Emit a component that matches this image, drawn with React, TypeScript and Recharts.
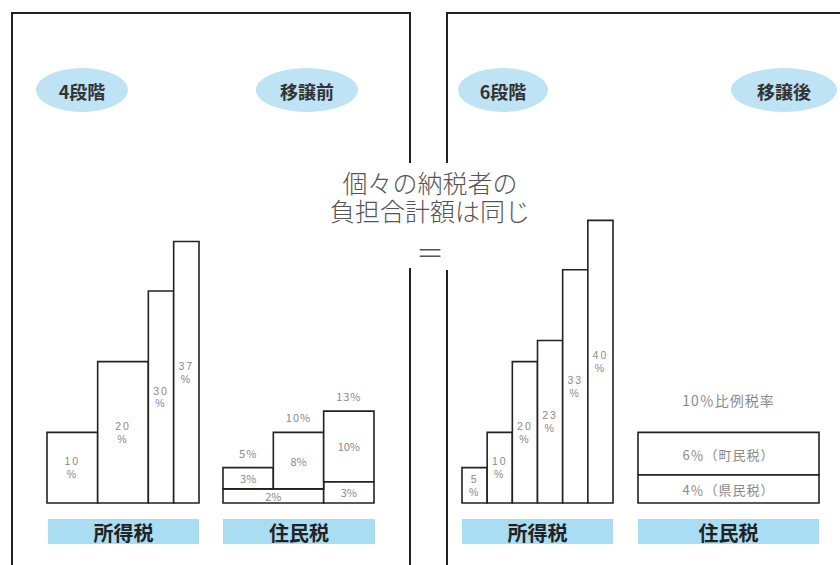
import React from 'react';
import { ComposedChart, XAxis, YAxis, ReferenceArea } from 'recharts';

// 移譲前：所得税 4段階
const incomeBeforeRates = [10, 20, 30, 37];
const incomeBeforeBrackets = [2, 2, 1, 1]; // relative width of each income bracket
// 移譲前：住民税（下＝県民税、上＝市町村民税）
const residentBeforePref = [2, 2, 3];
const residentBeforeCity = [3, 8, 10];
// 移譲後：所得税 6段階
const incomeAfterRates = [5, 10, 20, 23, 33, 40];
// 移譲後：住民税 10%比例税率
const residentAfterPref = [4];
const residentAfterCity = [6];
const residentAfterNames = ['町民税', '県民税'];

const FONT = '"Noto Sans CJK JP", "Noto Sans", sans-serif';
const NUM_FONT = '"Liberation Sans", Arial, sans-serif';
const SERIF = '"Liberation Serif", "Noto Sans CJK JP", serif';
const TOP = 185;
const BASE = 503;
const Y_MAX = 45;
const PAD = 3;
const LINE = '#222';
const BLUE = '#a9ddf4';
const ELLIPSE = '#bde3f5';
const LABEL_GREY = '#8a8a8a';

type Cell = {
  x0: number;
  x1: number;
  y0: number;
  y1: number;
  lines: string[];
  above?: string;
  aboveGap?: number;
  size?: number;
  spacing?: number;
};

// multi-line text as one <text> with tspans
const MultiText = ({ x, y, lines, lh, ...rest }: any) => {
  const start = y - ((lines.length - 1) * lh) / 2;
  return (
    <text x={x} y={start} textAnchor="middle" dominantBaseline="central" {...rest}>
      {lines.map((t: string, i: number) => (
        <tspan key={i} x={x} dy={i === 0 ? 0 : lh}>{t}</tspan>
      ))}
    </text>
  );
};

const cellLabel = (c: Cell) => (p: any) => {
  const vb = p.viewBox ?? { x: p.x, y: p.y, width: p.width, height: p.height };
  const cx = vb.x + vb.width / 2;
  const cy = vb.y + vb.height / 2;
  const multi = c.lines.length > 1;
  return (
    <g>
      <MultiText x={cx} y={cy} lines={c.lines} lh={12.5} fontFamily={multi ? NUM_FONT : FONT}
        fontSize={c.size ?? (multi ? 10.5 : 11)} fill={LABEL_GREY} letterSpacing={c.spacing ?? 0} />
      {c.above && (
        <text x={cx} y={vb.y - (c.aboveGap ?? 15)} textAnchor="middle" dominantBaseline="central"
          fontFamily={FONT} fontSize={c.aboveGap ? 14 : 11} fill={LABEL_GREY} letterSpacing={1}>{c.above}</text>
      )}
    </g>
  );
};

function StepChart({ left, width, units, cells }: { left: number; width: number; units: number; cells: Cell[] }) {
  const h = BASE - TOP;
  return (
    <div style={{ position: 'absolute', left: left - PAD, top: TOP - PAD }}>
      <ComposedChart width={width + PAD * 2} height={h + PAD * 2} data={cells}
        margin={{ top: PAD, right: PAD, bottom: PAD, left: PAD }}>
        <XAxis type="number" dataKey="x0" domain={[0, units]} hide allowDataOverflow />
        <YAxis type="number" domain={[0, Y_MAX]} hide allowDataOverflow />
        {cells.map((c, i) => (
          <ReferenceArea key={i} x1={c.x0} x2={c.x1} y1={c.y0} y2={c.y1}
            fill="#fff" fillOpacity={1} stroke={LINE} strokeWidth={1.6}
            ifOverflow="visible" label={cellLabel(c)} />
        ))}
      </ComposedChart>
    </div>
  );
}

// build cells from the data arrays
const incomeCells = (rates: number[], widths: number[]): Cell[] => {
  let x = 0;
  return rates.map((r, i) => {
    const c: Cell = { x0: x, x1: x + widths[i], y0: 0, y1: r, lines: [`${r}`, '%'], spacing: 2 };
    x += widths[i];
    return c;
  });
};

const residentBeforeCells = (): Cell[] => {
  const out: Cell[] = [];
  // lower part: merge neighbouring bars with the same rate
  let i = 0;
  while (i < residentBeforePref.length) {
    let j = i;
    while (j + 1 < residentBeforePref.length && residentBeforePref[j + 1] === residentBeforePref[i]) j++;
    out.push({ x0: i * 2, x1: (j + 1) * 2, y0: 0, y1: residentBeforePref[i], lines: [`${residentBeforePref[i]}%`] });
    i = j + 1;
  }
  residentBeforeCity.forEach((v, k) => {
    const base = residentBeforePref[k];
    out.push({ x0: k * 2, x1: k * 2 + 2, y0: base, y1: base + v, lines: [`${v}%`], above: `${base + v}%` });
  });
  return out;
};

const residentAfterCells = (): Cell[] => [
  { x0: 0, x1: 1, y0: 0, y1: residentAfterPref[0], lines: [`${residentAfterPref[0]}％（${residentAfterNames[1]}）`], size: 13, spacing: 1 },
  {
    x0: 0, x1: 1, y0: residentAfterPref[0], y1: residentAfterPref[0] + residentAfterCity[0],
    lines: [`${residentAfterCity[0]}％（${residentAfterNames[0]}）`], size: 13, spacing: 1,
    above: `${residentAfterPref[0] + residentAfterCity[0]}％比例税率`, aboveGap: 32,
  },
];

const Ellipse = ({ cx, rx, text }: { cx: number; rx: number; text: string }) => (
  <g>
    <ellipse cx={cx} cy={90} rx={rx} ry={22} fill={ELLIPSE} />
    <text x={cx} y={91} textAnchor="middle" dominantBaseline="central" fontFamily={FONT}
      fontSize={18} fontWeight={700} fill="#333">{text}</text>
  </g>
);

const Tag = ({ x0, x1, text }: { x0: number; x1: number; text: string }) => (
  <g>
    <rect x={x0} y={519} width={x1 - x0} height={25} fill={BLUE} />
    <text x={(x0 + x1) / 2} y={532} textAnchor="middle" dominantBaseline="central" fontFamily={FONT}
      fontSize={20} fontWeight={700} fill="#222">{text}</text>
  </g>
);

export default function App() {
  return (
    <div style={{ position: 'absolute', left: 0, top: 0, width: 840, height: 565, background: '#fff', overflow: 'hidden' }}>
      <svg width={840} height={565} style={{ position: 'absolute', left: 0, top: 0 }}>
        {/* panel frames, broken where the centre text sits */}
        <path d="M12 565 V13 H410 V163 M410 268 V565" fill="none" stroke={LINE} strokeWidth={2} />
        <path d="M447 565 V270 M447 163 V13 H842" fill="none" stroke={LINE} strokeWidth={2} />
        <Ellipse cx={82} rx={46} text="4段階" />
        <Ellipse cx={307} rx={51} text="移譲前" />
        <Ellipse cx={503} rx={45} text="6段階" />
        <Ellipse cx={784} rx={53} text="移譲後" />
        <Tag x0={48} x1={199} text="所得税" />
        <Tag x0={223} x1={375} text="住民税" />
        <Tag x0={462} x1={613} text="所得税" />
        <Tag x0={638} x1={819} text="住民税" />
        <MultiText x={430} y={198} lines={['個々の納税者の', '負担合計額は同じ']} lh={28}
          fontFamily={SERIF} fontSize={25} fontWeight={300} fill="#555" />
        <text x={430} y={252} textAnchor="middle" dominantBaseline="central" fontFamily={FONT}
          fontSize={28} fontWeight={300} fill="#555">＝</text>
      </svg>
      <StepChart left={47} width={152} units={6} cells={incomeCells(incomeBeforeRates, incomeBeforeBrackets)} />
      <StepChart left={223} width={151} units={6} cells={residentBeforeCells()} />
      <StepChart left={462} width={151} units={6} cells={incomeCells(incomeAfterRates, incomeAfterRates.map(() => 1))} />
      <StepChart left={638} width={181} units={1} cells={residentAfterCells()} />
    </div>
  );
}
